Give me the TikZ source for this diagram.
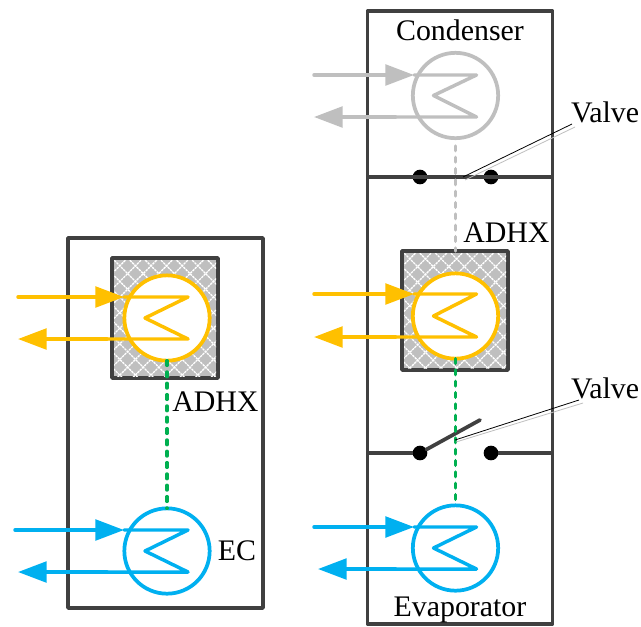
\documentclass[tikz,border=0pt]{standalone}
\usepackage{fontspec}
\setmainfont{Liberation Serif}
\usetikzlibrary{arrows.meta}
\definecolor{cBlue}{HTML}{00B0F0}
\definecolor{cOrange}{HTML}{FFC000}
\definecolor{cGreen}{HTML}{00B050}
\definecolor{cGray}{HTML}{BFBFBF}
\definecolor{cDark}{HTML}{404040}
\tikzset{
  frame/.style={draw=cDark,line width=2.6pt,line join=round},
  wall/.style={draw=cDark,line width=2.6pt},
  hx/.style={circle,draw=#1,fill=white,line width=2.8pt,minimum size=64pt,inner sep=0pt,outer sep=0pt},
  pipe/.style={draw=#1,line width=2.6pt,line join=round,line cap=round},
  flow/.style={pipe=#1,-{Triangle[length=21.5pt,width=15.5pt]}},
  lbl/.style={font=\fontsize{22.4pt}{24pt}\selectfont,inner sep=0pt,text=black},
  dot/.style={circle,fill=black,minimum size=11pt,inner sep=0pt,outer sep=0pt},
  greenlink/.style={draw=cGreen,line width=2.6pt,line cap=round,dash pattern=on 3.5pt off 5pt},
  graylink/.style={draw=cGray,line width=2.6pt,line cap=round,dash pattern=on 3.5pt off 5pt},
  lead/.style={draw=black,line width=0.6pt},
  leadshadow/.style={draw=cGray,line width=0.6pt},
  lever/.style={draw=cDark,line width=2.8pt,line cap=round},
}
% #1 name, #2 colour, #3 cx, #4 cy, #5 top y, #6 bottom y, #7 in start x, #8 in tip x, #9 out tip x
\newcommand{\exchanger}[9]{%
  \node[hx=#2] (#1) at (#3,#4) {};
  \coordinate (#1a) at (#7,#5);
  \coordinate (#1b) at (#8,#5);
  \coordinate (#1c) at (#3+21,#5);
  \coordinate (#1d) at (#3-22,#4);
  \coordinate (#1e) at (#3+21,#6);
  \coordinate (#1f) at (#9,#6);
  \draw[flow=#2] (#1a) -- (#1b);
  \draw[pipe=#2] (#1b) -- (#1c) -- (#1d) -- (#1e) -- (#3-60,#6);
  \draw[flow=#2] (#3-60,#6) -- (#1f);
}
% #1 name, #2 left, #3 top, #4 right, #5 bottom
\newcommand{\sorbent}[5]{%
  \node[frame,fill=cGray,minimum width=(#4-#2)*0.75pt,minimum height=(#5-#3)*0.75pt,inner sep=0pt,outer sep=0pt] (#1) at ({(#2+#4)/2},{(#3+#5)/2}) {};
  \begin{scope}
    \clip (#2+2,#3+2) rectangle (#4-2,#5-2);
    \foreach \k in {-12,...,24} {
      \draw[white,line width=1pt,dash pattern=on 1.8pt off 0.6pt] (#2+\k*15.6,#3) -- ++(130,130);
      \draw[white,line width=1pt,dash pattern=on 1.8pt off 0.6pt] (#2+\k*15.6,#3) -- ++(-130,130);
    }
  \end{scope}
}
\begin{document}
\begin{tikzpicture}[x=0.75pt,y=-0.75pt]
\useasboundingbox (0,0) rectangle (641,626);
\fill[white] (0,0) rectangle (641,626);

% left unit
\node[frame,minimum width=146.25pt,minimum height=277.5pt,inner sep=0pt,outer sep=0pt] (leftbox) at (165.5,423) {};
\sorbent{sorbL}{112}{258}{218}{378}
\exchanger{adL}{cOrange}{167}{318}{297}{339}{18}{124}{18}
\exchanger{ecL}{cBlue}{167}{551}{530}{572}{15}{124}{18}
\draw[greenlink] (adL.south) -- (ecL.north);
\node[lbl,anchor=west] (adxL) at (172,402) {ADHX};
\node[lbl] (ecT) at (237,551) {EC};

% right unit
\node[frame,minimum width=138.75pt,minimum height=459.75pt,inner sep=0pt,outer sep=0pt] (rightbox) at (460,317.5) {};
\coordinate (w1l) at (rightbox.west |- 0,177);
\coordinate (w1r) at (rightbox.east |- 0,177);
\coordinate (w2l) at (rightbox.west |- 0,453);
\coordinate (w2r) at (rightbox.east |- 0,453);
\node[dot] (v1a) at (420,177) {};
\node[dot] (v1b) at (491,177) {};
\node[dot] (v2a) at (420,453) {};
\node[dot] (v2b) at (491,453) {};
\draw[wall] (w1l) -- (w1r);
\draw[wall] (w2l) -- (v2a);
\draw[wall] (v2b) -- (w2r);
\coordinate (lev) at (480,420);
\draw[lever] (v2a) -- (lev);

\sorbent{sorbR}{402}{251}{508}{370}
\exchanger{cond}{cGray}{455.5}{95.5}{75}{117}{314}{414}{314}
\exchanger{adR}{cOrange}{455.5}{316}{294}{337}{314}{414}{314}
\exchanger{evap}{cBlue}{455.5}{548}{527}{569}{314}{414}{318}
\draw[graylink] (455.5,146) -- (sorbR.north -| 455.5,0);
\draw[greenlink] (adR.south) -- (evap.north);

\node[lbl] (condT) at (460,30) {Condenser};
\node[lbl,anchor=west] (adxR) at (463,233) {ADHX};
\node[lbl] (evapT) at (460,609.5) {Evaporator};
\node[lbl] (valve1) at (605,112) {Valve};
\node[lbl] (valve2) at (605,388) {Valve};
\coordinate (l1a) at (463,177);
\coordinate (l1b) at (572,124);
\coordinate (l2a) at (455,440);
\coordinate (l2b) at (579,400);
\draw[leadshadow] (465,180) -- (575,127);
\draw[lead] (l1a) -- (l1b);
\draw[leadshadow] (456,442) -- (583,403);
\draw[lead] (l2a) -- (l2b);
\end{tikzpicture}
\end{document}
